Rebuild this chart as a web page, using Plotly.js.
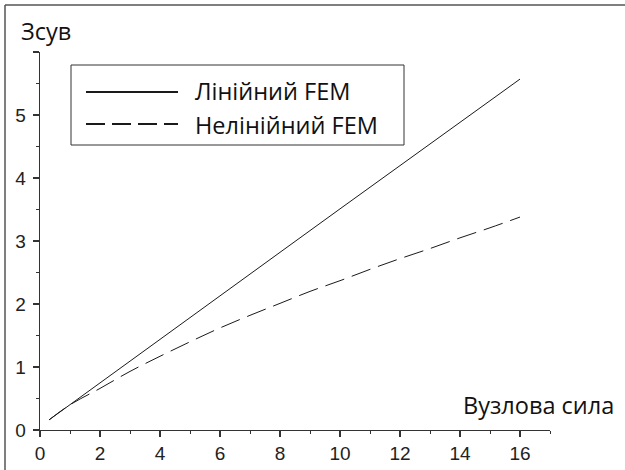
<!DOCTYPE html>
<html>
<head>
<meta charset="utf-8">
<script src="https://cdn.plot.ly/plotly-3.0.1.min.js"></script>
<style>html,body{margin:0;padding:0;background:#fff;}#chart{width:625px;height:470px;}</style>
</head>
<body>
<div id="chart"></div>
<script>
// Data
const seriesNames = ['Лінійний FEM', 'Нелінійний FEM'];
const linearX = [0.3, 2, 4, 6, 8, 10, 12, 14, 16];
const linearY = [0.16, 0.75, 1.44, 2.13, 2.82, 3.51, 4.20, 4.88, 5.57];
const nonlinearX = [0.3, 1, 2, 3, 4, 5, 6, 7, 8, 9, 10, 11, 12, 13, 14, 15, 16];
const nonlinearY = [0.16, 0.40, 0.66, 0.93, 1.17, 1.40, 1.62, 1.82, 2.01, 2.20, 2.37, 2.55, 2.72, 2.88, 3.05, 3.21, 3.38];
const xTickVals = [0, 2, 4, 6, 8, 10, 12, 14, 16];
const xTickText = ['0', '2', '4', '6', '8', '10', '12', '14', '16'];
const yTickVals = [0, 1, 2, 3, 4, 5, 6];
const yTickText = ['0', '1', '2', '3', '4', '5', ''];
const xTitle = 'Вузлова сила';
const yTitle = 'Зсув';

const W = 625, H = 470;
const M = {l: 40, r: 75, t: 52, b: 40};
const PW = W - M.l - M.r, PH = H - M.t - M.b;
const px = x => (x - M.l) / PW;
const py = y => (H - M.b - y) / PH;

const lineColor = '#1a1a1a';
const txtFont = {family: 'Open Sans, Noto Sans, sans-serif', size: 23.5, color: '#111'};

const traces = [
  {x: linearX, y: linearY, name: seriesNames[0], mode: 'lines', type: 'scatter',
   line: {color: lineColor, width: 1}, showlegend: false},
  {x: nonlinearX, y: nonlinearY, name: seriesNames[1], mode: 'lines', type: 'scatter',
   line: {color: lineColor, width: 1, dash: '20px,8px', shape: 'spline'}, showlegend: false}
];

const axisCommon = {
  showgrid: false, zeroline: false, showline: true, linecolor: '#333', linewidth: 1.3,
  ticks: 'outside', ticklen: 6, tickwidth: 1.2, tickcolor: '#333',
  tickfont: {family: 'Liberation Sans, Arial, sans-serif', size: 19, color: '#222'},
  mirror: false, fixedrange: true
};

const layout = {
  width: W, height: H,
  margin: M,
  paper_bgcolor: '#fff', plot_bgcolor: '#fff',
  showlegend: false,
  xaxis: Object.assign({}, axisCommon, {
    range: [0, 17], tickmode: 'array', tickvals: xTickVals, ticktext: xTickText,
    minor: {dtick: 1, tick0: 0, ticks: 'outside', ticklen: 3, tickcolor: '#333', tickwidth: 1}
  }),
  yaxis: Object.assign({}, axisCommon, {
    range: [0, 6], tickmode: 'array', tickvals: yTickVals, ticktext: yTickText,
    ticklabelstandoff: 3,
    minor: {dtick: 0.5, tick0: 0, ticks: 'outside', ticklen: 3, tickcolor: '#333', tickwidth: 1}
  }),
  annotations: [
    {text: yTitle, xref: 'paper', yref: 'paper', x: px(19), y: py(31), xanchor: 'left', yanchor: 'middle',
     showarrow: false, font: txtFont},
    {text: xTitle, xref: 'paper', yref: 'paper', x: px(616), y: py(405), xanchor: 'right', yanchor: 'middle',
     showarrow: false, font: txtFont},
    {text: seriesNames[0], xref: 'paper', yref: 'paper', x: px(193), y: py(91), xanchor: 'left', yanchor: 'middle',
     showarrow: false, font: txtFont},
    {text: seriesNames[1], xref: 'paper', yref: 'paper', x: px(193), y: py(125), xanchor: 'left', yanchor: 'middle',
     showarrow: false, font: txtFont}
  ],
  shapes: [
    // outer frame (top and left edges)
    {type: 'line', xref: 'paper', yref: 'paper', x0: px(5), x1: px(626), y0: py(5), y1: py(5),
     line: {color: '#555', width: 1.5}},
    {type: 'line', xref: 'paper', yref: 'paper', x0: px(5), x1: px(5), y0: py(5), y1: py(471),
     line: {color: '#555', width: 1.5}},
    // legend box
    {type: 'rect', xref: 'paper', yref: 'paper', x0: px(71), x1: px(404), y0: py(145), y1: py(65),
     line: {color: '#333', width: 1}, fillcolor: 'rgba(0,0,0,0)'},
    {type: 'line', xref: 'paper', yref: 'paper', x0: px(86), x1: px(178), y0: py(92), y1: py(92),
     line: {color: lineColor, width: 2}},
    {type: 'line', xref: 'paper', yref: 'paper', x0: px(86), x1: px(178), y0: py(124), y1: py(124),
     line: {color: lineColor, width: 2, dash: '19px,7px'}}
  ]
};

Plotly.newPlot('chart', traces, layout, {displayModeBar: false, staticPlot: true});
</script>
</body>
</html>
